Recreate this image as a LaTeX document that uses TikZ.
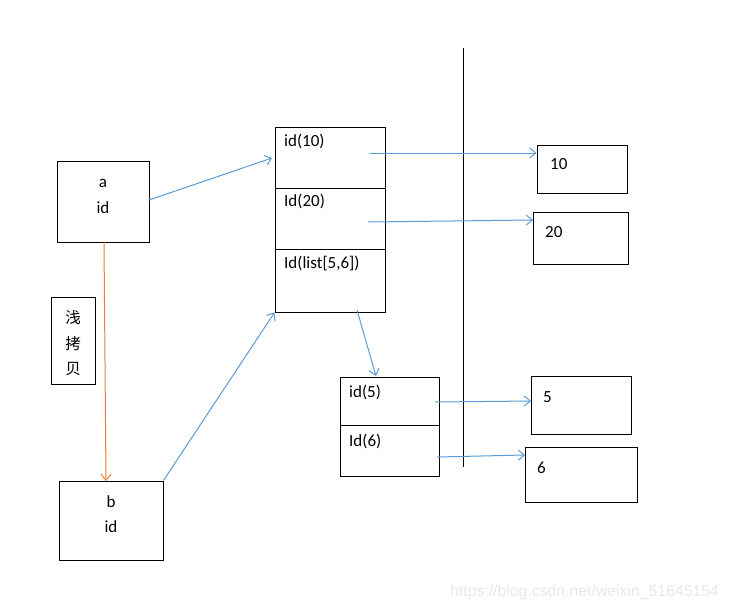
\documentclass[tikz,border=0pt]{standalone}
\usepackage{fontspec}
\setmainfont{Carlito}
\newfontfamily\cjk{Noto Sans CJK SC}
\newfontfamily\wmfont{Liberation Sans}
\usetikzlibrary{arrows.meta}
\definecolor{lblue}{HTML}{5B9BD5}
\definecolor{lorange}{HTML}{ED7D31}
\begin{document}
\begin{tikzpicture}[x=1pt,y=-1pt,
  box/.style={draw=black,line width=1pt,minimum width=#1,inner sep=0pt},
  lbl/.style={font=\fontsize{17}{18}\selectfont,inner sep=0pt,anchor=base west},
  clbl/.style={font=\fontsize{17}{18}\selectfont,inner sep=0pt,anchor=base},
  barrow/.style={draw=lblue,line width=1pt,-{Straight Barb[length=6pt,width=10pt]}},
  oarrow/.style={draw=lorange,line width=1pt,-{Straight Barb[length=6pt,width=10pt]}}]
\useasboundingbox (0,0) rectangle (730,608);
% left boxes
\node[box=92pt,minimum height=81pt] (a) at (103,201.5) {};
\node[clbl] (atxt) at (103,187) {a};
\node[clbl] (aid) at (103,213) {id};
\node[box=44pt,minimum height=87pt] (sh) at (73,340.5) {};
\node[font=\cjk\fontsize{15.5}{16}\selectfont,inner sep=0pt] (c1) at (73,318) {浅};
\node[font=\cjk\fontsize{15.5}{16}\selectfont,inner sep=0pt] (c2) at (73,343.5) {拷};
\node[font=\cjk\fontsize{15.5}{16}\selectfont,inner sep=0pt] (c3) at (73,369) {贝};
\node[box=104pt,minimum height=79pt] (b) at (111,520.5) {};
\node[clbl] (btxt) at (111,507) {b};
\node[clbl] (bid) at (111,532) {id};
% main stack
\node[box=110pt,minimum height=61pt] (s1) at (330,157.5) {};
\node[box=110pt,minimum height=61pt] (s2) at (330,218.5) {};
\node[box=110pt,minimum height=63pt] (s3) at (330,280.5) {};
\node[lbl] (t1) at (284,146) {id(10)};
\node[lbl] (t2) at (284,206) {Id(20)};
\node[lbl] (t3) at (284,268) {Id(list[5,6])};
% small stack
\node[box=99pt,minimum height=48pt] (u1) at (389.5,401) {};
\node[box=99pt,minimum height=51pt] (u2) at (389.5,450.5) {};
\node[lbl] (t5) at (349,397) {id(5)};
\node[lbl] (t6) at (349,446) {Id(6)};
% value boxes
\node[box=90pt,minimum height=48pt] (v10) at (582,169) {};
\node[box=95pt,minimum height=52pt] (v20) at (580.5,238) {};
\node[box=100pt,minimum height=58pt] (v5) at (581,405) {};
\node[box=112pt,minimum height=55pt] (v6) at (581,474.5) {};
\node[lbl] (n10) at (550,169) {10};
\node[lbl] (n20) at (545,237) {20};
\node[lbl] (n5) at (543,402) {5};
\node[lbl] (n6) at (537,473) {6};
% divider
\coordinate (dtop) at (463,48);
\coordinate (dbot) at (463,467);
\draw[line width=1pt] (dtop) -- (dbot);
% connectors
\coordinate (aout) at (149,200);
\coordinate (s1in) at (272,158);
\draw[barrow] (aout) -- (s1in);
\draw[barrow] (b.north east) -- (s3.south west);
\coordinate (s3out) at (357,310);
\coordinate (u1in) at (376,376);
\draw[barrow] (s3out) -- (u1in);
\coordinate (p10) at (370,153);
\draw[barrow] (p10) -- (v10.west |- p10);
\coordinate (p20) at (368,222);
\coordinate (q20) at (533,220);
\draw[barrow] (p20) -- (q20);
\coordinate (p5) at (435,402);
\coordinate (q5) at (531,401);
\draw[barrow] (p5) -- (q5);
\coordinate (p6) at (437,457);
\coordinate (q6) at (525,455);
\draw[barrow] (p6) -- (q6);
\coordinate (aout2) at (104,242);
\coordinate (bin) at (106,481);
\draw[oarrow] (aout2) -- (bin);
% watermark
\node[font=\wmfont\fontsize{15.8}{18}\selectfont,text=black!9,inner sep=0pt,anchor=base west] (wm) at (450,596) {https://blog.csdn.net/weixin\_51645154};
\end{tikzpicture}
\end{document}
